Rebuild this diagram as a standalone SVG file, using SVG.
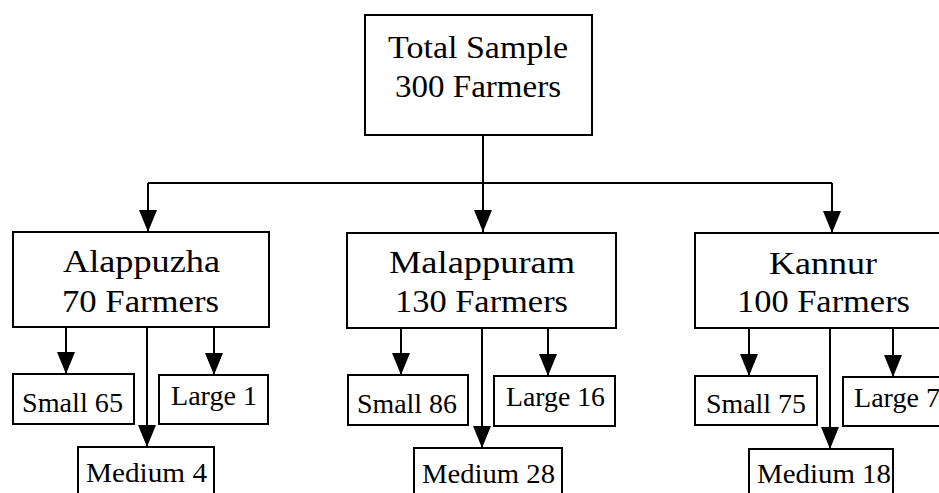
<svg xmlns="http://www.w3.org/2000/svg" width="939" height="493" viewBox="0 0 939 493">
<style>
.box{fill:#fff;stroke:#000;stroke-width:2}
.big{font-family:"Liberation Serif","Times New Roman",serif;font-size:32px;fill:#000}
.sm{font-family:"Liberation Serif","Times New Roman",serif;font-size:27px;fill:#000}
.ln{fill:none;stroke:#000;stroke-width:2}
</style>
<defs>
<marker id="ah" viewBox="0 0 22 18" refX="22" refY="9" markerWidth="22" markerHeight="18" markerUnits="userSpaceOnUse" orient="auto">
<path d="M0,0 L22,9 L0,18 Z" fill="#000"/>
</marker>
</defs>
<rect width="939" height="493" fill="#fff"/>
<g id="connectors">
<path class="ln" d="M483,135 V232" marker-end="url(#ah)"/>
<path class="ln" d="M148,183 H832"/>
<path class="ln" d="M148,183 V232" marker-end="url(#ah)"/>
<path class="ln" d="M832,183 V233" marker-end="url(#ah)"/>
<path class="ln" d="M66,327 V374" marker-end="url(#ah)"/>
<path class="ln" d="M214,327 V375" marker-end="url(#ah)"/>
<path class="ln" d="M147,327 V447" marker-end="url(#ah)"/>
<path class="ln" d="M401,328 V375" marker-end="url(#ah)"/>
<path class="ln" d="M548,328 V376" marker-end="url(#ah)"/>
<path class="ln" d="M482,328 V448" marker-end="url(#ah)"/>
<path class="ln" d="M749,328 V376" marker-end="url(#ah)"/>
<path class="ln" d="M893,328 V377" marker-end="url(#ah)"/>
<path class="ln" d="M830,328 V449" marker-end="url(#ah)"/>
</g>
<g id="total">
<rect class="box" x="365" y="15" width="227" height="120"/>
<text class="big" x="388" y="58" textLength="180" lengthAdjust="spacingAndGlyphs">Total Sample</text>
<text class="big" x="395" y="97" textLength="166" lengthAdjust="spacingAndGlyphs">300 Farmers</text>
</g>
<g id="alappuzha">
<rect class="box" x="13" y="232" width="256" height="95"/>
<text class="big" x="63" y="272" textLength="157" lengthAdjust="spacingAndGlyphs">Alappuzha</text>
<text class="big" x="62" y="312" textLength="157" lengthAdjust="spacingAndGlyphs">70 Farmers</text>
</g>
<g id="malappuram">
<rect class="box" x="347" y="233" width="269" height="95"/>
<text class="big" x="389" y="273" textLength="186" lengthAdjust="spacingAndGlyphs">Malappuram</text>
<text class="big" x="395" y="312" textLength="173" lengthAdjust="spacingAndGlyphs">130 Farmers</text>
</g>
<g id="kannur">
<rect class="box" x="695" y="233" width="260" height="95"/>
<text class="big" x="769" y="274" textLength="108" lengthAdjust="spacingAndGlyphs">Kannur</text>
<text class="big" x="737" y="312" textLength="173" lengthAdjust="spacingAndGlyphs">100 Farmers</text>
</g>
<g id="small65">
<rect class="box" x="13" y="374" width="121" height="50"/>
<text class="sm" x="22" y="412" textLength="101" lengthAdjust="spacingAndGlyphs">Small 65</text>
</g>
<g id="large1">
<rect class="box" x="159" y="375" width="109" height="49"/>
<text class="sm" x="171" y="405" textLength="86" lengthAdjust="spacingAndGlyphs">Large 1</text>
</g>
<g id="medium4">
<rect class="box" x="78" y="447" width="136" height="60"/>
<text class="sm" x="86" y="482" textLength="121" lengthAdjust="spacingAndGlyphs">Medium 4</text>
</g>
<g id="small86">
<rect class="box" x="348" y="375" width="120" height="50"/>
<text class="sm" x="357" y="413" textLength="100" lengthAdjust="spacingAndGlyphs">Small 86</text>
</g>
<g id="large16">
<rect class="box" x="494" y="376" width="121" height="50"/>
<text class="sm" x="506" y="406" textLength="99" lengthAdjust="spacingAndGlyphs">Large 16</text>
</g>
<g id="medium28">
<rect class="box" x="414" y="448" width="148" height="60"/>
<text class="sm" x="422" y="483" textLength="133" lengthAdjust="spacingAndGlyphs">Medium 28</text>
</g>
<g id="small75">
<rect class="box" x="695" y="376" width="122" height="49"/>
<text class="sm" x="706" y="413" textLength="100" lengthAdjust="spacingAndGlyphs">Small 75</text>
</g>
<g id="large7">
<rect class="box" x="843" y="377" width="120" height="49"/>
<text class="sm" x="854" y="407" textLength="86" lengthAdjust="spacingAndGlyphs">Large 7</text>
</g>
<g id="medium18">
<rect class="box" x="749" y="449" width="144" height="60"/>
<text class="sm" x="757" y="483" textLength="134" lengthAdjust="spacingAndGlyphs">Medium 18</text>
</g>
</svg>
